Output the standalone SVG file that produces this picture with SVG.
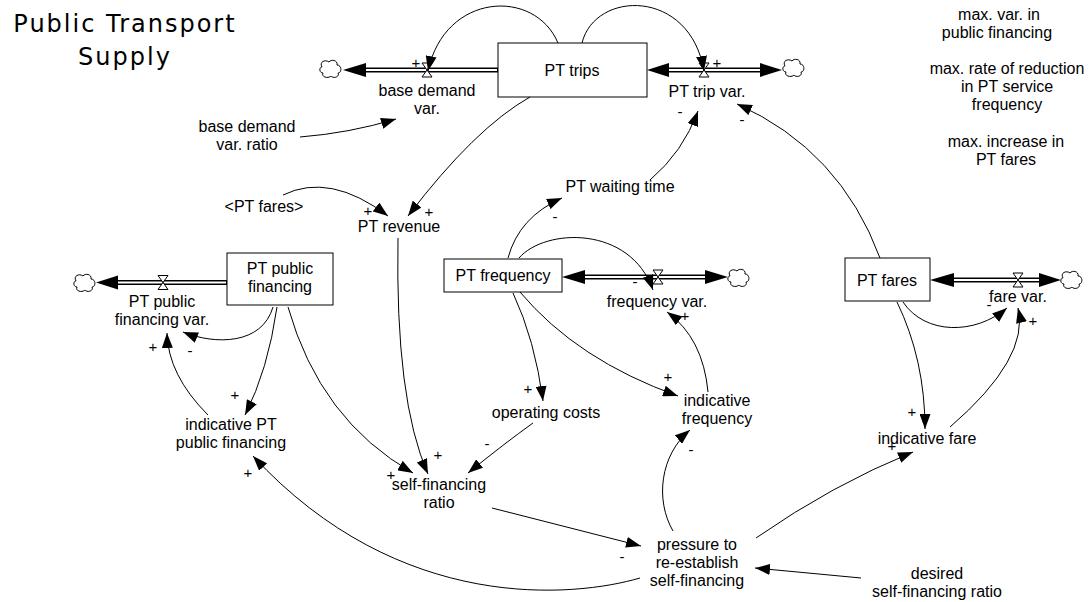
<svg xmlns="http://www.w3.org/2000/svg" xmlns:xlink="http://www.w3.org/1999/xlink" width="1089" height="602" viewBox="0 0 1089 602">
<style>
text{font-family:"Liberation Sans",Arial,sans-serif;font-size:16px;fill:#000;text-anchor:middle}
.title{font-family:"DejaVu Sans",Verdana,sans-serif;font-size:24px;letter-spacing:2px}
.sg{font-size:15px}
.box{fill:#fff;stroke:#000;stroke-width:1}
.pipeo{fill:none;stroke:#000;stroke-width:5}
.pipei{fill:none;stroke:#fff;stroke-width:2}
.fh{fill:#000;stroke:none}
.con{fill:none;stroke:#000;stroke-width:1;marker-end:url(#arr)}
.valve{fill:#fff;stroke:#000;stroke-width:1}
.cloud{fill:#fff;stroke:#000;stroke-width:1}
</style>
<defs>
<marker id="arr" markerUnits="userSpaceOnUse" markerWidth="15" markerHeight="11" refX="15" refY="5.5" orient="auto">
<path d="M0,0 L15,5.5 L0,11 Z" fill="#000"/>
</marker>
<path id="valveShape" class="valve" d="M-5,-7 H5 L-5,7 H5 Z"/>
<path id="cloudShape" class="cloud" d="M-9,-2 C-12,-7 -6,-10 -2,-7 C0,-10 7,-9 6,-4 C11,-4 11,4 7,4 C9,8 2,10 0,7 C-3,10 -10,8 -8,4 C-12,4 -12,-2 -9,-2 Z"/>
</defs>
<rect width="1089" height="602" fill="#fff"/>

<g id="title">
<text class="title" x="125" y="32">Public Transport</text>
<text class="title" x="125" y="65">Supply</text>
</g>

<g id="flows">
<path class="pipeo" d="M498,70 H364"/><path class="pipei" d="M497,70 H364"/>
<path class="fh" d="M343,70 L366,63 L366,77 Z"/>
<use xlink:href="#cloudShape" x="331" y="69"/>
<path class="pipeo" d="M668,70 H761"/><path class="pipei" d="M668,70 H761"/>
<path class="fh" d="M647,70 L669,63 L669,77 Z"/>
<path class="fh" d="M782,70 L760,63 L760,77 Z"/>
<use xlink:href="#cloudShape" x="794" y="68"/>
<path class="pipeo" d="M227,282.5 H117"/><path class="pipei" d="M226,282.5 H117"/>
<path class="fh" d="M96,282.5 L118,275.5 L118,289.5 Z"/>
<use xlink:href="#cloudShape" x="85" y="283"/>
<path class="pipeo" d="M584,277 H706"/><path class="pipei" d="M584,277 H706"/>
<path class="fh" d="M562,277 L585,270 L585,284 Z"/>
<path class="fh" d="M728,277 L705,270 L705,284 Z"/>
<use xlink:href="#cloudShape" x="739" y="278"/>
<path class="pipeo" d="M953,280 H1040"/><path class="pipei" d="M953,280 H1040"/>
<path class="fh" d="M930,280 L954,273 L954,287 Z"/>
<path class="fh" d="M1061,280 L1039,273 L1039,287 Z"/>
<use xlink:href="#cloudShape" x="1072" y="280"/>
</g>

<g id="PT_trips"><rect class="box" x="498" y="43" width="149" height="54"/><text x="572" y="76">PT trips</text></g>
<g id="PT_public_financing"><rect class="box" x="227" y="253" width="106" height="52"/><text x="280" y="274">PT public</text><text x="280" y="292">financing</text></g>
<g id="PT_frequency"><rect class="box" x="444" y="259" width="118" height="33"/><text x="503" y="281">PT frequency</text></g>
<g id="PT_fares"><rect class="box" x="845" y="258" width="85" height="43"/><text x="887" y="286">PT fares</text></g>

<g id="base_demand_var"><use xlink:href="#valveShape" x="427" y="70"/><text x="427" y="96">base demand</text><text x="427" y="114">var.</text></g>
<g id="PT_trip_var"><use xlink:href="#valveShape" x="704" y="70"/><text x="707" y="97">PT trip var.</text></g>
<g id="PT_public_financing_var"><use xlink:href="#valveShape" x="163" y="282.5"/><text x="162" y="307">PT public</text><text x="162" y="325">financing var.</text></g>
<g id="frequency_var"><use xlink:href="#valveShape" x="658" y="277"/><text x="657" y="307">frequency var.</text></g>
<g id="fare_var"><use xlink:href="#valveShape" x="1018" y="280"/><text x="1018" y="302">fare var.</text></g>

<g id="base_demand_var_ratio"><text x="247" y="132">base demand</text><text x="247" y="150">var. ratio</text></g>
<g id="PT_fares_shadow"><text x="264" y="212">&lt;PT fares&gt;</text></g>
<g id="PT_revenue"><text x="399" y="232">PT revenue</text></g>
<g id="PT_waiting_time"><text x="620" y="192">PT waiting time</text></g>
<g id="operating_costs"><text x="546" y="418">operating costs</text></g>
<g id="indicative_frequency"><text x="717" y="406">indicative</text><text x="717" y="424">frequency</text></g>
<g id="indicative_PT_public_financing"><text x="231" y="430">indicative PT</text><text x="231" y="448">public financing</text></g>
<g id="self_financing_ratio"><text x="439" y="490">self-financing</text><text x="439" y="508">ratio</text></g>
<g id="indicative_fare"><text x="927" y="444">indicative fare</text></g>
<g id="pressure"><text x="697" y="550">pressure to</text><text x="697" y="568">re-establish</text><text x="697" y="586">self-financing</text></g>
<g id="desired_self_financing_ratio"><text x="937" y="579">desired</text><text x="937" y="597">self-financing ratio</text></g>
<g id="max_var_public_financing"><text x="999" y="20">max. var. in</text><text x="997" y="38">public financing</text></g>
<g id="max_rate_reduction"><text x="1007" y="74">max. rate of reduction</text><text x="1007" y="92">in PT service</text><text x="1007" y="110">frequency</text></g>
<g id="max_increase_fares"><text x="1006" y="147">max. increase in</text><text x="1006" y="165">PT fares</text></g>

<g id="connectors">
<path class="con" d="M558,43 C535,-12 445,-8 428,71"/>
<path class="con" d="M582,43 C595,-10 690,-12 704,71"/>
<path class="con" d="M300,137 Q350,133 396,119"/>
<path class="con" d="M530,97 Q475,128 408,216"/>
<path class="con" d="M283,195 Q330,172 388,216"/>
<path class="con" d="M398,238 Q395,400 428,474"/>
<path class="con" d="M273,307 C262,345 215,345 183,332"/>
<path class="con" d="M208,415 Q168,375 167,333"/>
<path class="con" d="M277,307 Q268,370 245,415"/>
<path class="con" d="M288,307 Q320,420 413,473"/>
<path class="con" d="M508,258 Q519,217 562,198"/>
<path class="con" d="M650,180 Q683,152 698,111"/>
<path class="con" d="M880,258 Q840,150 737,104"/>
<path class="con" d="M519,258 C545,228 630,225 653,290"/>
<path class="con" d="M513,293 Q535,340 543,401"/>
<path class="con" d="M520,292 Q577,360 678,396"/>
<path class="con" d="M533,423 Q505,443 468,473"/>
<path class="con" d="M492,508 L641,546"/>
<path class="con" d="M640,578 C575,597 400,615 253,456"/>
<path class="con" d="M673,531 C655,500 660,455 690,430"/>
<path class="con" d="M756,538 Q832,485 913,452"/>
<path class="con" d="M861,578 L755,568"/>
<path class="con" d="M708,392 Q703,338 667,312"/>
<path class="con" d="M903,302 C925,335 975,335 1007,308"/>
<path class="con" d="M950,427 Q1030,358 1018,308"/>
<path class="con" d="M897,302 Q925,360 925,429"/>
</g>

<g id="polarities">
<text class="sg" x="416" y="68">+</text>
<text class="sg" x="717" y="68">+</text>
<text class="sg" x="680" y="117">-</text>
<text class="sg" x="742" y="125">-</text>
<text class="sg" x="368" y="216">+</text>
<text class="sg" x="429" y="217">+</text>
<text class="sg" x="555" y="222">-</text>
<text class="sg" x="635" y="287">-</text>
<text class="sg" x="685" y="321">+</text>
<text class="sg" x="190" y="356">-</text>
<text class="sg" x="153" y="352">+</text>
<text class="sg" x="235" y="400">+</text>
<text class="sg" x="391" y="480">+</text>
<text class="sg" x="438" y="460">+</text>
<text class="sg" x="487" y="449">-</text>
<text class="sg" x="528" y="394">+</text>
<text class="sg" x="668" y="382">+</text>
<text class="sg" x="691" y="455">-</text>
<text class="sg" x="622" y="562">-</text>
<text class="sg" x="248" y="478">+</text>
<text class="sg" x="892" y="451">+</text>
<text class="sg" x="989" y="310">-</text>
<text class="sg" x="1033" y="326">+</text>
<text class="sg" x="912" y="417">+</text>
</g>
</svg>
